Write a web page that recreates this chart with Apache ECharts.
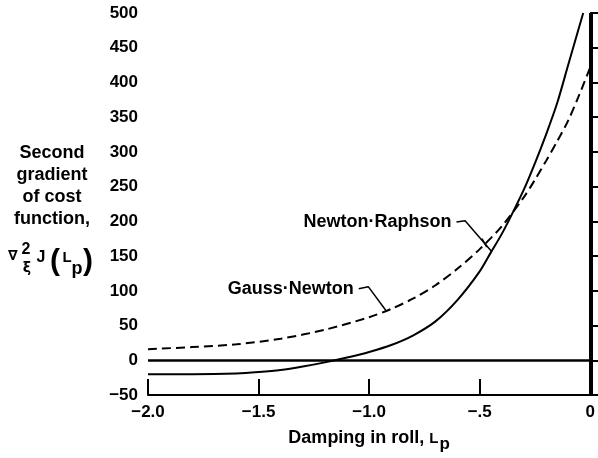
<!DOCTYPE html>
<html><head><meta charset="utf-8">
<script src="https://cdn.jsdelivr.net/npm/echarts@6/dist/echarts.min.js"></script>
<style>html,body{margin:0;padding:0;background:#fff}#c{width:598px;height:458px}</style>
</head><body><div id="c"></div>
<script>
// Data
var xTicks = [-2.0, -1.5, -1.0, -0.5, 0];
var xTickLabels = ['\u22122.0', '\u22121.5', '\u22121.0', '\u2212.5', '0'];
var yTicks = [-50, 0, 50, 100, 150, 200, 250, 300, 350, 400, 450, 500];
var yTickLabels = ['\u221250', '0', '50', '100', '150', '200', '250', '300', '350', '400', '450', '500'];

// Newton-Raphson (solid)
var nrL =    [-2.0, -1.8, -1.6, -1.5, -1.4, -1.3, -1.2, -1.1, -1.0, -0.9, -0.8, -0.7, -0.6, -0.5, -0.45, -0.4, -0.35, -0.3, -0.25, -0.2, -0.15, -0.1, -0.032];
var nrVals = [-20,  -20,  -19,  -17,  -14,  -9,   -3,   4,    12,   22,   36,   56,   87,   128,  155,   182,  213,   246,  284,   325,  370,   425,  500];
// Gauss-Newton (dashed)
var gnL =    [-2.0, -1.8, -1.6, -1.4, -1.2, -1.0, -0.9, -0.8, -0.7, -0.6, -0.5, -0.4, -0.3, -0.25, -0.2, -0.15, -0.1, -0.05, 0];
var gnVals = [16,   19,   23,   31,   44,   62,   74,   89,   108,  132,  160,  193,  235,  260,   287,  315,   345,  382,   422];

// Annotation leaders (data units)
var nrLeader = [[-0.605, 199], [-0.566, 201], [-0.447, 157]];
var nrCross = [[-0.49, 175], [-0.468, 163]];
var gnLeader = [[-1.047, 103], [-1.004, 106], [-0.925, 72]];

var FONT = 'Liberation Sans';
function pairs(xs, ys) { return xs.map(function (x, i) { return [x, ys[i]]; }); }
function lbl(vals, labels) { return function (v) { for (var i = 0; i < vals.length; i++) if (Math.abs(vals[i] - v) < 1e-6) return labels[i]; return ''; }; }

var chart = echarts.init(document.getElementById('c'), null, {renderer: 'canvas'});
var textStyle = {fontFamily: FONT, fontWeight: 'bold', color: '#000', fontSize: 17};
function t(x, y, s, size, fam) {
  return {type: 'text', x: x, y: y, style: {text: s, fill: '#000', font: 'bold ' + size + 'px "' + (fam || FONT) + '"', align: 'center', verticalAlign: 'middle'}};
}

chart.setOption({
  animation: false,
  backgroundColor: '#fff',
  grid: {left: 148, right: 7, top: 13, bottom: 61, containLabel: false},
  xAxis: {
    type: 'value', min: -2, max: 0, interval: 0.5,
    axisLine: {show: true, onZero: false, lineStyle: {color: '#000', width: 2}},
    axisTick: {show: true, inside: true, length: 16, lineStyle: {color: '#000', width: 2}},
    splitLine: {show: false},
    axisLabel: Object.assign({margin: 9, formatter: lbl(xTicks, xTickLabels)}, textStyle),
    name: '{a|Damping in roll, }{l|L}{s|p}',
    nameLocation: 'middle', nameGap: 29,
    nameTextStyle: {rich: {
      a: {fontFamily: FONT, fontWeight: 'bold', fontSize: 18, color: '#000'},
      l: {fontFamily: FONT, fontWeight: 'bold', fontSize: 15, color: '#000'},
      s: {fontFamily: FONT, fontWeight: 'bold', fontSize: 17, color: '#000', padding: [12, 0, 0, 1]}
    }}
  },
  yAxis: {
    type: 'value', min: -50, max: 500, interval: 50,
    axisLine: {show: true, lineStyle: {color: '#000', width: 2}},
    axisTick: {show: true, inside: true, length: 19, lineStyle: {color: '#000', width: 2}},
    splitLine: {show: false},
    axisLabel: Object.assign({margin: 10, formatter: lbl(yTicks, yTickLabels)}, textStyle)
  },
  series: [
    {
      name: 'Newton-Raphson', type: 'line', data: pairs(nrL, nrVals), smooth: 0.3,
      symbol: 'none', lineStyle: {color: '#000', width: 2},
      markLine: {
        silent: true, symbol: 'none', label: {show: false},
        data: [
          {yAxis: 0, lineStyle: {color: '#000', width: 2.5, type: 'solid'}},
          {xAxis: 0, lineStyle: {color: '#000', width: 4, type: 'solid'}}
        ]
      },
      markPoint: {
        symbol: 'circle', symbolSize: 0,
        label: {show: true, position: 'left', distance: 5, formatter: 'Newton\u00b7Raphson',
          fontFamily: FONT, fontWeight: 'bold', fontSize: 18, color: '#000'},
        data: [{coord: nrLeader[0]}]
      }
    },
    {
      name: 'Gauss-Newton', type: 'line', data: pairs(gnL, gnVals), smooth: 0.3,
      symbol: 'none', lineStyle: {color: '#000', width: 2, type: [9, 5]},
      markPoint: {
        symbol: 'circle', symbolSize: 0,
        label: {show: true, position: 'left', distance: 5, formatter: 'Gauss\u00b7Newton',
          fontFamily: FONT, fontWeight: 'bold', fontSize: 18, color: '#000'},
        data: [{coord: gnLeader[0]}]
      }
    },
    {name: 'leaderNR', type: 'line', data: nrLeader, symbol: 'none', lineStyle: {color: '#000', width: 1.5}},
    {name: 'crossNR', type: 'line', data: nrCross, symbol: 'none', lineStyle: {color: '#000', width: 1.5}},
    {name: 'leaderGN', type: 'line', data: gnLeader, symbol: 'none', lineStyle: {color: '#000', width: 1.5}}
  ],
  graphic: [
    {type: 'text', x: 52, y: 142, style: {text: 'Second\ngradient\nof cost\nfunction,', fill: '#000',
      font: 'bold 18px "' + FONT + '"', align: 'center', verticalAlign: 'top', lineHeight: 22}},
    t(13, 256, '\u2207', 14, 'DejaVu Sans'),
    t(26, 250, '2', 16),
    t(27, 268, '\u03be', 14, 'DejaVu Sans'),
    t(41, 258, 'J', 16),
    t(55, 262, '(', 30),
    t(67, 258, 'L', 15),
    t(77, 269, 'p', 18),
    t(88, 262, ')', 30)
  ]
});
</script></body></html>
